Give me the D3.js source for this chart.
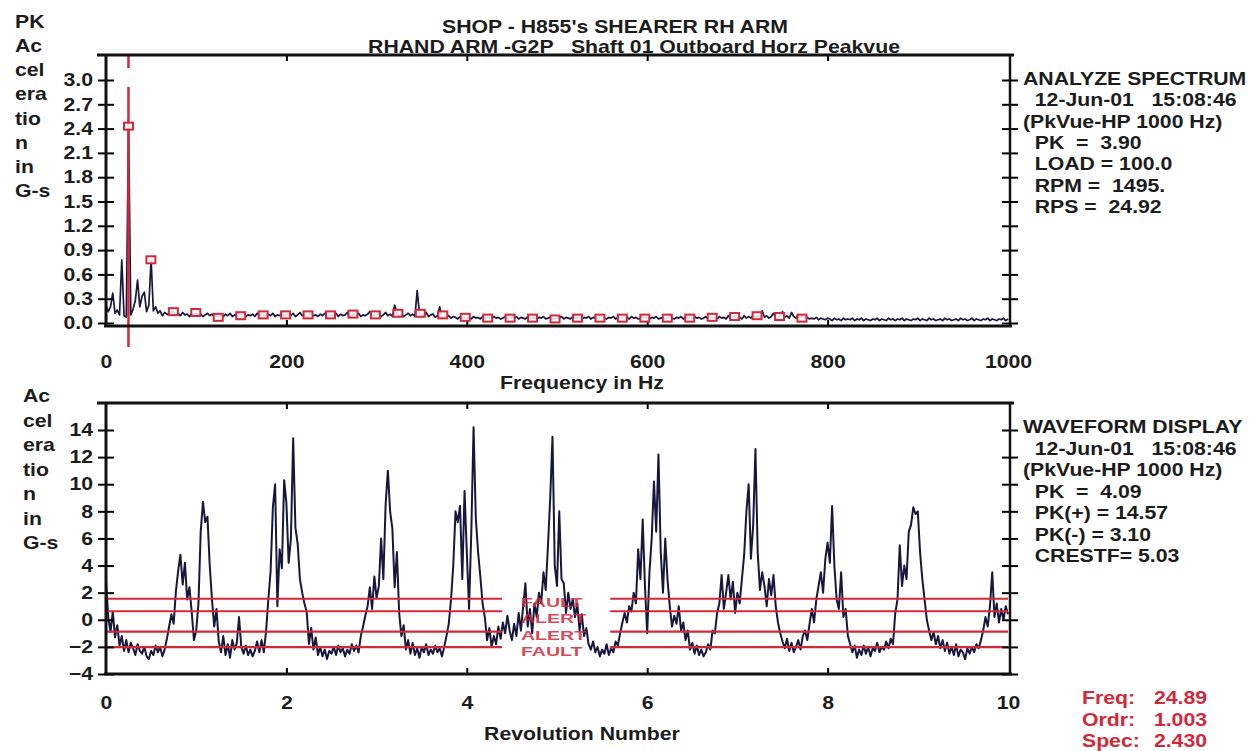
<!DOCTYPE html>
<html>
<head>
<meta charset="utf-8">
<script src="https://cdn.jsdelivr.net/npm/d3@7"></script>
<style>
  body { margin: 0; background: #fff; }
  svg text { font-family: "Liberation Sans", Arial, Helvetica, sans-serif; font-weight: bold; font-size: 18px; fill: #1c1c1c; white-space: pre; }
</style>
</head>
<body>
<svg id="chart" width="1260" height="751"></svg>
<script>
// ---- spectrum (2.5 Hz lines, 0..1000 Hz) ----
var specStep = 2.5;
var specAmp = [
  0.22,0.14,0.2,0.37,0.12,0.16,0.1,0.78,0.09,0.07, 2.43,0.1,0.17,0.28,0.53,0.2,0.33,0.38,0.14,0.22,
  0.78,0.15,0.2,0.12,0.15,0.09,0.13,0.11,0.1,0.14, 0.14,0.1,0.12,0.09,0.13,0.1,0.11,0.08,0.12,0.1,
  0.13,0.09,0.11,0.08,0.1,0.12,0.09,0.11,0.08,0.09, 0.07,0.1,0.08,0.11,0.09,0.12,0.08,0.1,0.09,0.11,
  0.09,0.12,0.08,0.1,0.09,0.11,0.08,0.12,0.09,0.11, 0.1,0.08,0.11,0.09,0.12,0.08,0.1,0.09,0.12,0.08,
  0.1,0.11,0.09,0.12,0.08,0.1,0.13,0.09,0.11,0.08, 0.1,0.12,0.09,0.1,0.08,0.11,0.09,0.12,0.08,0.1,
  0.1,0.09,0.12,0.08,0.11,0.09,0.1,0.13,0.08,0.1, 0.11,0.09,0.12,0.08,0.1,0.09,0.11,0.14,0.08,0.1,
  0.09,0.12,0.08,0.1,0.13,0.09,0.11,0.08,0.22,0.12, 0.09,0.11,0.08,0.1,0.12,0.09,0.11,0.08,0.4,0.12,
  0.09,0.1,0.13,0.08,0.1,0.11,0.07,0.09,0.2,0.06, 0.08,0.07,0.09,0.06,0.08,0.07,0.05,0.08,0.06,0.07,
  0.06,0.07,0.05,0.08,0.06,0.07,0.05,0.08,0.06,0.06, 0.07,0.05,0.08,0.06,0.07,0.05,0.06,0.08,0.05,0.06,
  0.07,0.06,0.08,0.05,0.07,0.06,0.05,0.08,0.06,0.06, 0.07,0.05,0.07,0.06,0.08,0.05,0.06,0.07,0.05,0.05,
  0.07,0.06,0.08,0.05,0.07,0.06,0.05,0.08,0.06,0.06, 0.07,0.05,0.07,0.06,0.08,0.05,0.07,0.06,0.05,0.06,
  0.08,0.06,0.05,0.07,0.06,0.08,0.05,0.07,0.06,0.06, 0.05,0.07,0.05,0.08,0.06,0.07,0.05,0.06,0.08,0.06,
  0.07,0.05,0.07,0.06,0.08,0.05,0.06,0.07,0.05,0.06, 0.08,0.06,0.05,0.07,0.06,0.08,0.05,0.07,0.06,0.07,
  0.05,0.08,0.06,0.07,0.05,0.06,0.08,0.05,0.07,0.07, 0.06,0.05,0.08,0.06,0.07,0.05,0.09,0.06,0.08,0.08,
  0.06,0.07,0.05,0.09,0.06,0.08,0.06,0.1,0.07,0.09, 0.06,0.15,0.07,0.09,0.06,0.08,0.12,0.07,0.06,0.09,
  0.14,0.07,0.09,0.06,0.13,0.08,0.06,0.1,0.07,0.08, 0.06,0.07,0.05,0.06,0.05,0.07,0.04,0.06,0.05,0.04,
  0.06,0.05,0.03,0.06,0.04,0.05,0.03,0.06,0.04,0.05, 0.04,0.06,0.03,0.05,0.04,0.06,0.03,0.05,0.04,0.03,
  0.05,0.04,0.06,0.03,0.05,0.04,0.03,0.06,0.04,0.05, 0.03,0.05,0.04,0.06,0.03,0.05,0.04,0.03,0.05,0.04,
  0.06,0.03,0.05,0.04,0.03,0.06,0.04,0.05,0.03,0.04, 0.05,0.03,0.06,0.04,0.05,0.03,0.04,0.05,0.03,0.06,
  0.04,0.05,0.03,0.04,0.06,0.03,0.05,0.04,0.03,0.05, 0.04,0.06,0.03,0.05,0.04,0.03,0.05,0.04,0.06,0.03,
  0.05
];
var orderFreq = 24.89;
var markerAmp = [2.43,0.78,0.14,0.13,0.07,0.09,0.1,0.1,0.1,0.1,0.11,0.1,0.12,0.12,0.1,0.07,
  0.06,0.06,0.06,0.05,0.06,0.06,0.06,0.06,0.06,0.06,0.07,0.08,0.09,0.08,0.06];
var freqTicks = [0, 200, 400, 600, 800, 1000];
var specYTicks = [0, 0.3, 0.6, 0.9, 1.2, 1.5, 1.8, 2.1, 2.4, 2.7, 3.0];

// ---- waveform (40 samples per revolution, 0..10 rev) ----
var waveStep = 0.025;
var waveAmp = [
  2.9,0.2,-0.9,0.6,-1.3,-0.4,-1.9,-1.2,-2.3,-1.5, -2.4,-1.7,-2.1,-2.6,-1.8,-2.3,-2.5,-2.0,-2.7,-2.9,
  -2.3,-2.6,-1.9,-2.4,-2.0,-2.7,-2.2,-1.4,-0.5,0.4, -0.3,2.1,3.6,4.8,2.6,4.2,1.5,2.4,0.6,-1.5,
  -0.8,1.2,6.5,8.7,7.2,7.6,4.0,1.5,-0.5,0.8, -1.6,-2.4,-1.2,-2.6,-1.8,-2.8,-1.5,-2.2,-1.7,0.2,
  -2.0,-2.5,-1.9,-2.6,-2.2,-2.7,-2.3,-1.6,-2.4,-1.5, -2.4,-0.8,1.5,3.6,8.3,10.0,1.0,5.2,3.8,10.3,
  8.6,4.2,6.0,13.4,6.8,5.6,3.0,2.0,1.2,0.6, -1.8,-0.6,-2.2,-1.3,-2.6,-2.0,-2.7,-2.2,-2.9,-2.3,
  -2.5,-2.0,-2.6,-1.9,-2.4,-2.1,-2.7,-2.2,-2.5,-1.8, -2.3,-1.9,-2.4,-1.2,-0.5,0.3,1.0,2.4,0.8,3.2,
  1.6,2.5,6.0,3.0,8.5,11.0,8.0,6.7,2.4,5.0, 0.5,-1.2,-0.4,-2.2,-1.5,-2.5,-1.7,-2.6,-2.1,-2.8,
  -2.0,-2.4,-1.8,-2.6,-2.2,-2.5,-1.9,-2.4,-2.1,-2.7, -2.0,-1.2,-0.3,1.5,4.0,8.0,7.2,8.4,3.0,9.5,
  5.0,0.8,6.5,14.2,7.5,5.0,3.2,1.2,0.2,-1.5, -0.6,-2.0,-1.2,-1.8,-0.5,-1.4,-0.2,-1.0,0.3,-0.8,
  -1.5,-0.3,-1.2,0.5,-0.8,1.0,2.7,-0.5,0.8,-1.0, 1.2,0.2,2.0,1.2,3.5,2.2,5.5,9.0,13.5,4.0,
  2.5,8.0,3.0,2.7,0.5,2.0,0.8,1.5,0.2,1.2, -0.8,0.4,-1.2,-0.6,-1.8,-2.2,-1.6,-2.4,-2.0,-2.7,
  -2.2,-2.5,-1.8,-2.6,-2.1,-2.4,-1.6,-1.9,-1.0,-0.2, 0.5,-0.2,1.0,0.6,2.0,1.2,5.2,3.0,7.4,2.5,
  -1.0,3.5,6.0,10.2,6.5,12.2,5.0,2.0,6.0,3.0, 1.0,-0.5,0.3,-0.3,1.0,-0.8,-0.2,-1.5,-0.8,-2.2,
  -1.7,-2.5,-1.9,-2.6,-2.2,-2.7,-2.4,-1.8,-2.2,-0.8, -1.0,0.5,1.2,3.3,0.8,2.0,3.3,1.5,2.8,0.5,
  2.0,1.2,3.0,4.8,8.0,10.0,4.5,7.0,12.6,5.0, 2.2,3.5,2.5,1.0,3.0,1.8,3.3,1.0,-0.2,-1.0,
  -1.6,-2.1,-1.4,-2.3,-1.7,-2.4,-2.0,-1.5,-2.2,-1.2, -0.8,-1.5,-0.3,0.8,-0.2,1.5,2.5,3.5,2.0,4.5,
  5.7,4.2,8.4,4.0,1.5,0.8,3.5,0.2,0.8,-1.2, -1.8,-2.4,-1.9,-2.8,-2.2,-2.6,-1.9,-2.5,-2.0,-2.7,
  -2.1,-2.3,-1.7,-2.4,-2.0,-2.2,-1.6,-2.1,-1.4,-1.8, 0.5,1.5,5.5,2.5,4.0,3.0,6.5,7.0,8.3,7.8,
  8.0,5.0,3.0,1.5,0.0,-0.8,-1.5,-0.9,-1.8,-1.2, -2.1,-1.5,-2.3,-1.7,-2.5,-2.0,-2.6,-1.8,-2.7,-2.2,
  -2.4,-2.9,-2.1,-2.5,-2.0,-2.4,-1.8,-2.1,-1.5,-0.8, 0.2,-0.5,1.0,3.5,0.2,1.2,-0.2,0.8,0.0,1.0,
  0.4
];
var revTicks = [0, 2, 4, 6, 8, 10];
var waveYTicks = [-4, -2, 0, 2, 4, 6, 8, 10, 12, 14];
var alarmLevels = [1.55, 0.63, -0.88, -2.02];
var alarmLabels = ["FAULT", "ALERT", "ALERT", "FAULT"];
var alarmGap = [4.39, 5.59];

// ---- texts ----
var titleText = "SHOP - H855's SHEARER RH ARM";
var subTitleText = "RHAND ARM -G2P   Shaft 01 Outboard Horz Peakvue";
var yLabelLines = ["Ac", "cel", "era", "tio", "n", "in", "G-s"];
var specInfo = ["ANALYZE SPECTRUM", "  12-Jun-01   15:08:46", "(PkVue-HP 1000 Hz)", "  PK  =  3.90",
  "  LOAD = 100.0", "  RPM =  1495.", "  RPS =  24.92"];
var waveInfo = ["WAVEFORM DISPLAY", "  12-Jun-01   15:08:46", "(PkVue-HP 1000 Hz)", "  PK  =  4.09",
  "  PK(+) = 14.57", "  PK(-) = 3.10", "  CRESTF= 5.03"];
var cursorLabels = ["Freq:", "Ordr:", "Spec:"];
var cursorValues = ["24.89", "1.003", "2.430"];

var SX = 1.18;            // the scan is stretched horizontally
var RED = "#d3283a";
var INK = "#17173d";

var svg = d3.select("#chart");

function stext(parent, x, y, str, anchor, sx) {
  return parent.append("text")
    .attr("transform", "translate(" + x + "," + y + ") scale(" + (sx || SX) + ",1)")
    .attr("text-anchor", anchor || "start")
    .text(str);
}

// scales
var xFreq = d3.scaleLinear().domain([0, 1000]).range([106, 1008]);
var ySpec = d3.scaleLinear().domain([0, 3]).range([323, 80]);
var xRev = d3.scaleLinear().domain([0, 10]).range([106, 1008]);
var yWave = d3.scaleLinear().domain([-4, 14]).range([674, 430]);

// frame of a panel, with crossing ticks on both vertical axes
function drawFrame(top, bottom, yScale, yTicks, fmt, xScale, xTicks) {
  var g = svg.append("g");
  var innerTicks = xTicks.slice(1, -1);

  // left axis
  var left = g.append("g").attr("transform", "translate(106,0)")
    .call(d3.axisLeft(yScale).tickValues(yTicks).tickSize(8).tickPadding(3).tickFormat(fmt));
  left.select(".domain").remove();
  left.selectAll("line").attr("x1", 8).attr("stroke-width", 2);
  left.selectAll("text").attr("font-size", 18)
    .attr("font-family", null).attr("transform", "scale(" + SX + ",1)");

  // right axis
  var right = g.append("g").attr("transform", "translate(1010,0)")
    .call(d3.axisRight(yScale).tickValues(yTicks).tickSize(8).tickFormat(""));
  right.select(".domain").remove();
  right.selectAll("line").attr("x1", -8).attr("stroke-width", 2);

  // small ticks hanging from the top line and standing on the bottom line
  var topT = g.append("g").attr("transform", "translate(0," + top + ")")
    .call(d3.axisBottom(xScale).tickValues(innerTicks).tickSize(6).tickFormat(""));
  topT.select(".domain").remove();
  topT.selectAll("line").attr("stroke-width", 2);
  var botT = g.append("g").attr("transform", "translate(0," + bottom + ")")
    .call(d3.axisTop(xScale).tickValues(innerTicks).tickSize(6).tickFormat(""));
  botT.select(".domain").remove();
  botT.selectAll("line").attr("stroke-width", 2);

  // frame lines
  g.append("line").attr("x1", 97).attr("x2", 1014).attr("y1", top).attr("y2", top)
    .attr("stroke", "#111").attr("stroke-width", 3);
  g.append("line").attr("x1", 104).attr("x2", 1012).attr("y1", bottom).attr("y2", bottom)
    .attr("stroke", "#111").attr("stroke-width", 3);
  g.append("line").attr("x1", 106).attr("x2", 106).attr("y1", top).attr("y2", bottom)
    .attr("stroke", "#111").attr("stroke-width", 3);
  g.append("line").attr("x1", 1010).attr("x2", 1010).attr("y1", top).attr("y2", bottom)
    .attr("stroke", "#111").attr("stroke-width", 2.5);
  return g;
}

// x tick labels (no marks)
function xLabels(y, xScale, ticks) {
  var a = svg.append("g").attr("transform", "translate(0," + y + ")")
    .call(d3.axisBottom(xScale).tickValues(ticks).tickSize(0).tickPadding(0).tickFormat(d3.format("d")));
  a.select(".domain").remove();
  a.selectAll("text").attr("font-size", 18)
    .attr("font-family", null).attr("transform", "scale(" + SX + ",1)");
}

// ================= top panel: spectrum =================
svg.append("path")
  .datum(specAmp)
  .attr("fill", "none")
  .attr("stroke", INK)
  .attr("stroke-width", 1.7)
  .attr("stroke-linejoin", "round")
  .attr("d", d3.line().x(function (d, i) { return xFreq(i * specStep); }).y(function (d) { return ySpec(d); }));

// cursor line at 1x running speed
svg.append("line")
  .attr("x1", xFreq(orderFreq)).attr("x2", xFreq(orderFreq))
  .attr("y1", 56).attr("y2", 347)
  .attr("stroke", RED).attr("stroke-width", 2.5)
  .attr("stroke-dasharray", "12,19,400");

drawFrame(55, 326, ySpec, specYTicks, d3.format(".1f"), xFreq, freqTicks);

// harmonic markers
svg.append("g").selectAll("rect")
  .data(markerAmp)
  .join("rect")
  .attr("x", function (d, i) { return xFreq((i + 1) * orderFreq) - 4.5; })
  .attr("y", function (d) { return ySpec(d) - 3.5; })
  .attr("width", 9).attr("height", 7)
  .attr("fill", "#fff").attr("fill-opacity", 0.85)
  .attr("stroke", RED).attr("stroke-width", 2);

xLabels(355, xFreq, freqTicks);
stext(svg, 582, 389, "Frequency in Hz", "middle");

// ================= bottom panel: waveform =================
svg.append("path")
  .datum(waveAmp)
  .attr("fill", "none")
  .attr("stroke", INK)
  .attr("stroke-width", 2)
  .attr("stroke-linejoin", "round")
  .attr("d", d3.line().x(function (d, i) { return xRev(i * waveStep); }).y(function (d) { return yWave(d); }));

var alarms = svg.append("g");
alarmLevels.forEach(function (lv, i) {
  alarms.append("line")
    .attr("x1", xRev(0)).attr("x2", xRev(alarmGap[0]))
    .attr("y1", yWave(lv)).attr("y2", yWave(lv))
    .attr("stroke", RED).attr("stroke-width", 2.2);
  alarms.append("line")
    .attr("x1", xRev(alarmGap[1])).attr("x2", xRev(10))
    .attr("y1", yWave(lv)).attr("y2", yWave(lv))
    .attr("stroke", RED).attr("stroke-width", 2.2);
  // labels stacked in the gap, as tight as the reference but without overlapping
  stext(alarms, xRev(4.6), 607 + i * 16.4, alarmLabels[i], "start", 1.45)
    .style("fill", RED).style("fill-opacity", 0.85).style("font-size", "13.5px");
});

drawFrame(403, 674, yWave, waveYTicks, d3.format("d"), xRev, revTicks);
xLabels(696, xRev, revTicks);
stext(svg, 582, 740, "Revolution Number", "middle");

// ================= texts =================
stext(svg, 615, 33, titleText, "middle");
stext(svg, 634, 53, subTitleText, "middle");

yLabelLines.forEach(function (s, i) {
  stext(svg, 15, 52 + i * 24.2, s);
  stext(svg, 23, 402 + i * 24.5, s);
});
stext(svg, 15, 28, "PK");

specInfo.forEach(function (s, i) { stext(svg, 1023, 85 + i * 21.3, s); });
waveInfo.forEach(function (s, i) { stext(svg, 1023, 433 + i * 21.5, s); });

cursorLabels.forEach(function (s, i) {
  stext(svg, 1082, 704 + i * 21.5, s).style("fill", RED);
  stext(svg, 1207, 704 + i * 21.5, cursorValues[i], "end").style("fill", RED);
});
</script>
</body>
</html>
